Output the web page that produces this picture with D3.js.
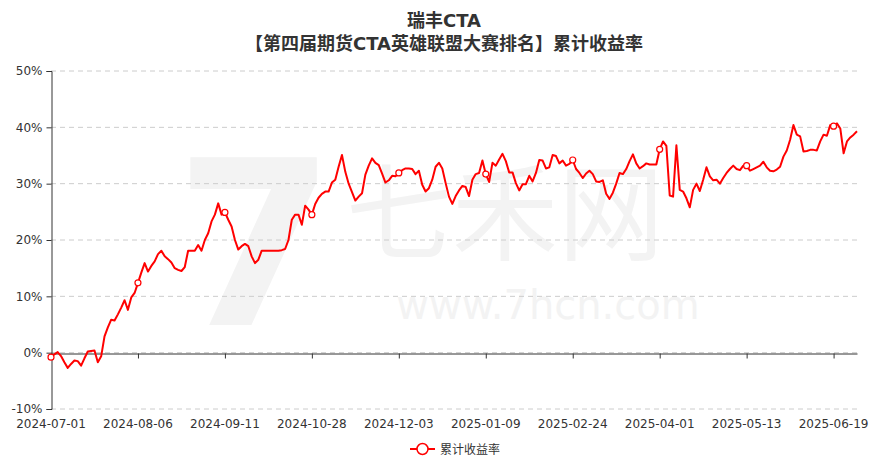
<!DOCTYPE html>
<html>
<head>
<meta charset="utf-8">
<script src="https://cdn.jsdelivr.net/npm/d3@7"></script>
<style>
  html, body { margin: 0; padding: 0; background: #fff; }
  svg { display: block; font-family: "DejaVu Sans", "Noto Sans CJK SC", sans-serif; }
</style>
</head>
<body>
<svg id="chart" width="888" height="470"></svg>
<script>
const titleLines = ["瑞丰CTA", "【第四届期货CTA英雄联盟大赛排名】累计收益率"];
const seriesName = "累计收益率";
const tickLabels = ["2024-07-01","2024-08-06","2024-09-11","2024-10-28","2024-12-03","2025-01-09","2025-02-24","2025-04-01","2025-05-13","2025-06-19"];
const tickEvery = 26;
const yTicks = [-10, 0, 10, 20, 30, 40, 50];
// cumulative return (%) per trading day, 2024-07-01 .. 2025-06-30
const values = [
 -0.8,-0.3,0.1,-0.6,-1.7,-2.7,-2.0,-1.4,-1.5,-2.3,
 -1.0,0.2,0.3,0.4,-1.7,-0.65,2.9,4.5,5.85,5.7,
 6.8,8.0,9.3,7.6,9.8,10.6,12.4,14.2,15.9,14.4,
 15.4,16.2,17.5,18.1,17.1,16.6,16.0,15.0,14.7,14.5,
 15.2,18.1,18.1,18.1,19.1,18.1,20.0,21.2,23.3,24.5,
 26.5,24.5,24.9,23.6,22.4,20.0,18.3,18.9,19.3,18.9,
 17.1,15.9,16.5,18.1,18.1,18.1,18.1,18.1,18.1,18.2,
 18.4,20.0,23.6,24.5,24.5,22.7,26.1,25.4,24.5,26.4,
 27.5,28.2,28.6,28.6,30.2,30.7,33.0,35.1,32.1,30.0,
 28.5,27.0,27.7,28.3,31.6,33.2,34.5,33.7,33.3,31.8,
 30.2,30.6,31.4,31.3,31.9,32.4,32.7,32.7,32.6,31.7,
 32.3,29.8,28.6,29.2,30.7,33.0,33.7,32.7,30.1,27.7,
 26.4,27.8,28.8,29.6,29.4,27.8,30.7,31.7,31.9,34.1,
 31.7,30.3,33.7,33.2,34.3,35.3,34.0,32.0,32.0,30.1,
 28.8,29.9,29.9,31.4,30.4,31.9,34.2,34.1,32.7,32.9,
 35.1,34.9,33.6,34.1,33.2,33.5,34.2,32.6,31.9,31.0,
 31.8,32.3,31.7,30.4,30.3,30.6,28.2,27.3,28.4,30.0,
 31.9,31.7,32.6,34.0,35.2,33.6,32.7,33.1,33.6,33.4,
 33.4,33.4,36.1,37.5,36.7,27.9,27.7,36.8,28.9,28.6,
 27.4,25.8,28.9,30.0,28.7,30.7,32.9,31.3,30.6,30.7,
 30.0,31.0,31.9,32.6,33.2,32.6,32.4,33.2,33.2,32.3,
 32.6,32.9,33.2,33.9,32.9,32.3,32.2,32.5,33.0,34.8,
 35.9,37.8,40.4,38.7,38.4,35.7,35.8,36.0,36.0,35.9,
 37.5,38.7,38.5,40.4,40.2,40.7,39.8,35.4,37.5,38.2,
 38.7,39.3
];

const W = 888, H = 470;
const m = { left: 51, right: 31, top: 71, bottom: 61 };
const svg = d3.select("#chart");

// watermark
const wm = svg.append("g").attr("fill", "#f3f3f3");
wm.append("text").attr("x", 255).attr("y", 325).attr("text-anchor", "middle")
  .attr("font-size", 230).attr("font-weight", "bold").attr("font-family", "DejaVu Sans").text("7");
wm.append("text").attr("x", 505).attr("y", 252).attr("text-anchor", "middle")
  .attr("font-size", 106).attr("font-family", "Noto Sans CJK SC").text("七禾网");
wm.append("text").attr("x", 548).attr("y", 319).attr("text-anchor", "middle")
  .attr("font-size", 40).attr("font-family", "DejaVu Sans").text("www.7hcn.com");

const x = d3.scaleLinear().domain([0, values.length - 1]).range([m.left, W - m.right]);
const y = d3.scaleLinear().domain([-10, 50]).range([H - m.bottom, m.top]);

// grid lines
svg.append("g").selectAll("line").data(yTicks).join("line")
  .attr("x1", m.left).attr("x2", W - m.right)
  .attr("y1", d => y(d)).attr("y2", d => y(d))
  .attr("stroke", "#cccccc").attr("stroke-dasharray", "5,4").attr("stroke-width", 1);

// y axis
const yAxis = d3.axisLeft(y).tickValues(yTicks).tickFormat(d => d + "%").tickSize(5).tickPadding(4);
const gy = svg.append("g").attr("transform", `translate(${m.left + 0.5},0)`).call(yAxis);
gy.select(".domain").attr("stroke", "#333");
gy.selectAll(".tick line").attr("stroke", "#333");
gy.selectAll(".tick text").attr("fill", "#333").attr("font-size", 12).attr("font-family", "DejaVu Sans");

// x axis at zero
const tickIdx = tickLabels.map((_, i) => i * tickEvery);
const xAxis = d3.axisBottom(x).tickValues(tickIdx).tickFormat("").tickSize(5).tickSizeOuter(0);
const gx = svg.append("g").attr("transform", `translate(0,${Math.round(y(0)) + 0.5})`).call(xAxis);
gx.select(".domain").attr("stroke", "#333");
gx.selectAll(".tick line").attr("stroke", "#333");

// x labels at bottom
svg.append("g").selectAll("text").data(tickLabels).join("text")
  .attr("x", (d, i) => x(tickIdx[i])).attr("y", H - m.bottom + 19)
  .attr("text-anchor", "middle").attr("font-size", 12).attr("fill", "#333")
  .attr("font-family", "DejaVu Sans").text(d => d);

// line
const line = d3.line().x((d, i) => x(i)).y(d => y(d));
svg.append("path").datum(values).attr("d", line)
  .attr("fill", "none").attr("stroke", "#ff0000").attr("stroke-width", 2).attr("stroke-linejoin", "round");

// symbols at label positions
svg.append("g").selectAll("circle").data(tickIdx.filter(i => i < values.length)).join("circle")
  .attr("cx", i => x(i)).attr("cy", i => y(values[i])).attr("r", 3)
  .attr("fill", "#fff").attr("stroke", "#ff0000").attr("stroke-width", 1.2);

// title
svg.append("g").selectAll("text").data(titleLines).join("text")
  .attr("x", W / 2).attr("y", (d, i) => 27 + i * 23)
  .attr("text-anchor", "middle").attr("font-size", 18).attr("font-weight", "bold")
  .attr("fill", "#333").text(d => d);

// legend
const lg = svg.append("g").attr("transform", "translate(410,449)");
lg.append("line").attr("x1", 0).attr("x2", 25).attr("y1", 0).attr("y2", 0)
  .attr("stroke", "#ff0000").attr("stroke-width", 2);
lg.append("circle").attr("cx", 12.5).attr("cy", 0).attr("r", 5.5)
  .attr("fill", "#fff").attr("stroke", "#ff0000").attr("stroke-width", 1.5);
lg.append("text").attr("x", 30).attr("y", 4.5).attr("font-size", 12).attr("fill", "#333")
  .attr("font-family", "Noto Sans CJK SC").text(seriesName);
</script>
</body>
</html>
